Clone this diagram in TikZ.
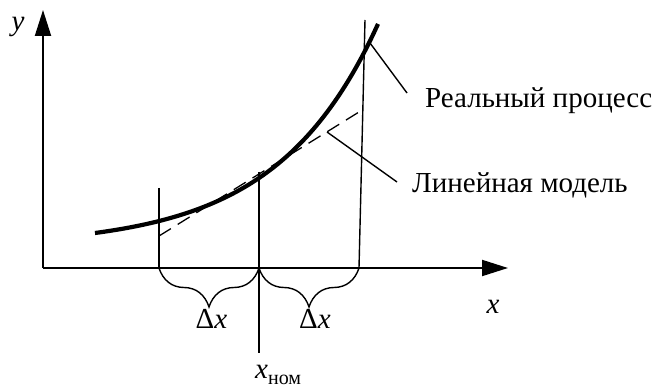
\documentclass[tikz,border=0pt]{standalone}
\usepackage{fontspec}
\setmainfont{Liberation Serif}
\usetikzlibrary{arrows.meta,decorations.pathreplacing}
\begin{document}
\begin{tikzpicture}[x=1pt,y=-1pt,
  axis/.style={line width=2pt,-{Triangle[length=26pt,width=16pt]}},
  thin/.style={line width=1.4pt},
  curve/.style={line width=4.2pt},
  tangent/.style={line width=1.3pt,dash pattern=on 14pt off 8pt},
  bracestyle/.style={line width=1.4pt,decorate,decoration={brace,amplitude=39pt,mirror}},
  lbl/.style={font=\fontsize{29}{33}\selectfont,inner sep=0pt}]
\useasboundingbox (0,0) rectangle (656,387);
% axes
\coordinate (O) at (43,268);
\coordinate (Ytip) at (43,10);
\coordinate (Xtip) at (508,268);
\draw[axis] (O) -- (Ytip);
\draw[axis] (O) -- (Xtip);
% vertical lines
\coordinate (L1) at (159,188); \coordinate (L0) at (159,268);
\coordinate (M1) at (259,172); \coordinate (M0) at (259,353);
\coordinate (R1) at (365,20);  \coordinate (R0) at (359,268);
\draw[thin] (L1) -- (L0);
\draw[thin] (M1) -- (M0);
\draw[thin] (R1) -- (R0);
% curve
\draw[curve] plot[domain=95:378,samples=80] (\x,{246.5-13.5*exp(0.00991*(\x-95))});
% tangent
\coordinate (T0) at (159,236); \coordinate (T1) at (359,112);
\draw[tangent] (T0) -- (T1);
% braces
\draw[bracestyle] (L0) -- (259,268);
\draw[bracestyle] (259,268) -- (R0);
% labels
\node[lbl,anchor=base] (ylab) at (18,31) {\itshape y};
\node[lbl,anchor=base] (xlab) at (493,314) {\itshape x};
\node[lbl,anchor=base] (dx1) at (211.5,328) {Δ\itshape x};
\node[lbl,anchor=base] (dx2) at (315,328) {Δ\itshape x};
\node[lbl,anchor=base west] (xnom) at (255,378) {\itshape x\upshape\fontsize{20}{22}\selectfont\raisebox{-6pt}{ном}};
\node[lbl,anchor=base west] (real) at (425,108) {Реальный процесс};
\node[lbl,anchor=base west] (lin) at (412,193) {Линейная модель};
% leaders
\coordinate (RA) at (370,43); \coordinate (RB) at (407,93);
\coordinate (LA) at (327,132); \coordinate (LB) at (397,182);
\draw[thin] (RA) -- (RB);
\draw[thin] (LA) -- (LB);
\end{tikzpicture}
\end{document}
